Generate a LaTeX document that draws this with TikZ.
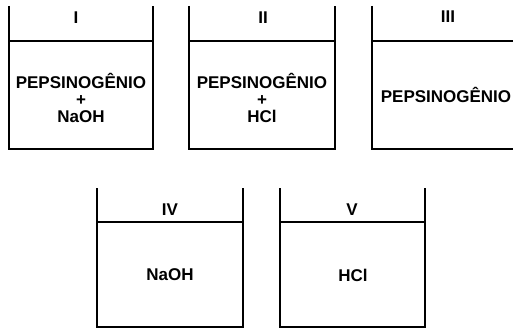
\documentclass[tikz,border=0pt]{standalone}
\usepackage{fontspec}
\setmainfont{Liberation Sans}
\usetikzlibrary{positioning}

\begin{document}
\begin{tikzpicture}[
        x=1pt, y=-1pt,
        every node/.style={inner sep=0pt, align=center, font=\fontsize{17}{17}\selectfont\bfseries},
        wall/.style={draw, line width=1.7pt},
        level/.style={draw, line width=1.6pt},
    ]

    \useasboundingbox (0,0) rectangle (513,329);

    % === TOP ROW ===
    % --- Beaker I ---
    \draw[wall] (9,6) -- (9,149) -- (153,149) -- (153,6);
    \draw[level] (9,41) -- (153,41);
    \node (numI) at (76,18) {I};
    \node (txtI) at (81,98) {PEPSINOGÊNIO\\+\\NaOH};

    % --- Beaker II ---
    \draw[wall] (189,6) -- (189,149) -- (335,149) -- (335,6);
    \draw[level] (189,41) -- (335,41);
    \node (numII) at (263,18) {II};
    \node (txtII) at (262,98) {PEPSINOGÊNIO\\+\\HCl};

    % --- Beaker III (cut at the right edge) ---
    \draw[wall] (372,6) -- (372,149) -- (513,149);
    \draw[level] (372,41) -- (513,41);
    \node (numIII) at (448,17) {III};
    \node (txtIII) at (446,95) {PEPSINOGÊNIO};

    % === BOTTOM ROW ===
    % --- Beaker IV ---
    \draw[wall] (97,188) -- (97,327) -- (243,327) -- (243,188);
    \draw[level] (97,222) -- (243,222);
    \node (numIV) at (170,210) {IV};
    \node (txtIV) at (170,275) {NaOH};

    % --- Beaker V ---
    \draw[wall] (280,188) -- (280,327) -- (425,327) -- (425,188);
    \draw[level] (280,222) -- (425,222);
    \node (numV) at (352,210) {V};
    \node (txtV) at (353,275) {HCl};

\end{tikzpicture}
\end{document}
